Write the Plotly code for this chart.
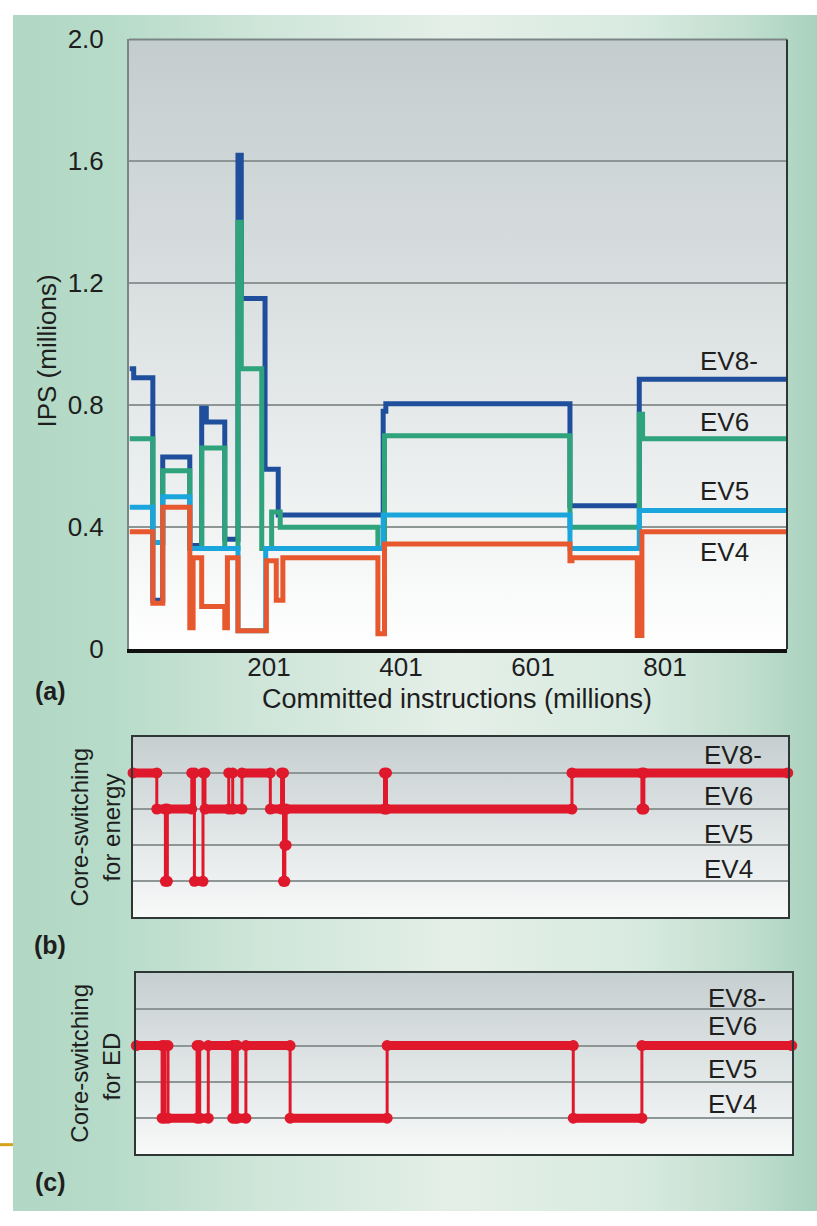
import base64
import plotly.graph_objects as go

# ---------------- data ----------------
# Panel (a): IPS (millions) per core, step series over committed instructions (millions)
ev8_x = [-10, -4, 25, 40, 81, 99, 106, 134, 154, 159, 195, 215, 374, 378, 657, 762, 986]
ev8_y = [0.92, 0.89, 0.16, 0.63, 0.34, 0.79, 0.745, 0.36, 1.62, 1.15, 0.59, 0.44, 0.78, 0.805, 0.47, 0.885, 0.885]

ev6_x = [-10, 25, 40, 81, 99, 134, 154, 159, 190, 205, 218, 366, 376, 657, 762, 767, 986]
ev6_y = [0.69, 0.35, 0.585, 0.33, 0.66, 0.33, 1.40, 0.92, 0.33, 0.45, 0.40, 0.33, 0.70, 0.40, 0.77, 0.69, 0.69]

ev5_x = [-10, 25, 40, 81, 154, 196, 374, 657, 762, 986]
ev5_y = [0.465, 0.35, 0.50, 0.33, 0.06, 0.33, 0.44, 0.33, 0.455, 0.455]

ev4_x = [-10, 25, 40, 81, 86, 99, 134, 138, 154, 197, 212, 222, 366, 376, 657, 660, 759, 766, 986]
ev4_y = [0.385, 0.15, 0.465, 0.07, 0.30, 0.14, 0.07, 0.30, 0.06, 0.29, 0.16, 0.30, 0.05, 0.345,
         0.29, 0.30, 0.045, 0.385, 0.385]

x_ticks = [201, 401, 601, 801]
y_ticks = [0, 0.4, 0.8, 1.2, 1.6, 2.0]
y_ticktext = ["0", "0.4", "0.8", "1.2", "1.6", "2.0"]

# Core levels for panels (b) and (c)
core_names = ["EV4", "EV5", "EV6", "EV8-"]
core_levels = [1, 2, 3, 4]

# Panel (b): core-switching for energy (level from x[i] to x[i+1])
b_x = [-5, 31, 44, 47, 84, 88, 101, 104, 140, 146, 160, 203, 220, 223, 225, 227, 376, 379, 660, 766, 769, 987]
b_lv = [4, 3, 1, 3, 4, 1, 4, 3, 4, 3, 4, 3, 4, 1, 2, 3, 4, 3, 4, 3, 4, 4]

# Panel (c): core-switching for ED
c_x = [0, 39, 43, 48, 92, 96, 109, 146, 150, 153, 166, 233, 380, 662, 766, 993]
c_lv = [3, 1, 3, 1, 3, 1, 3, 1, 3, 1, 3, 1, 3, 1, 3, 3]

# ---------------- styles ----------------
FONT = "Liberation Sans, Arial, sans-serif"
TXT = "#1e1e1e"
C_EV8, C_EV6, C_EV5, C_EV4 = "#1f4f9c", "#2ea37c", "#1aa6dc", "#e8582e"
RED = "#e0182c"
GRID = "#8d9595"

W, H = 817, 1226


def px(x):
    return x / W


def py(y):
    return 1 - y / H


def grad_uri(stops, horizontal):
    x2, y2 = ("1", "0") if horizontal else ("0", "1")
    st = "".join(f"<stop offset='{o}' stop-color='{c}'/>" for o, c in stops)
    svg = ("<svg xmlns='http://www.w3.org/2000/svg' width='100' height='100' viewBox='0 0 100 100' "
           "preserveAspectRatio='none'><defs><linearGradient id='g' x1='0' y1='0' "
           f"x2='{x2}' y2='{y2}'>{st}</linearGradient></defs>"
           "<rect width='100' height='100' fill='url(#g)'/></svg>")
    return "data:image/svg+xml;base64," + base64.b64encode(svg.encode()).decode()


bg_uri = grad_uri([(0, "#b1d8c4"), (0.12, "#b7dbc9"), (0.32, "#d0e6da"), (0.55, "#e4efe8"),
                   (0.78, "#d8eae0"), (0.92, "#bfddcd"), (1, "#a8d2be")], True)
plot_uri = grad_uri([(0, "#c4cdce"), (0.35, "#d6dcdd"), (0.7, "#ebeeee"), (1, "#ffffff")], False)
sub_uri = grad_uri([(0, "#c6cfd0"), (0.5, "#dfe4e5"), (1, "#f8f9f9")], False)

# domains (pixel based)
ax_a = (129, 787, 25, 650)
ax_b = (133, 788, 740, 925)
ax_c = (136, 792, 982, 1168)


def dom(a):
    return [px(a[0]), px(a[1])], [py(a[3]), py(a[2])]


def xrange_for(a):
    return [(a[0] - 137) / 0.66 + 1, (a[1] - 137) / 0.66 + 1]


fig = go.Figure()

# ---- panel (a) ----
for xs, ys, col, nm in [(ev8_x, ev8_y, C_EV8, "EV8-"), (ev6_x, ev6_y, C_EV6, "EV6"),
                        (ev5_x, ev5_y, C_EV5, "EV5"), (ev4_x, ev4_y, C_EV4, "EV4")]:
    fig.add_trace(go.Scatter(x=xs, y=ys, mode="lines", line=dict(color=col, width=5, shape="hv"),
                             name=nm, xaxis="x", yaxis="y", showlegend=False))


def seg_xy(xs, lv):
    sx, sy = [], []
    for i in range(len(xs) - 1):
        sx += [xs[i], xs[i + 1], None]
        sy += [lv[i], lv[i], None]
    return sx, sy


for xs, lv, xa, ya in [(b_x, b_lv, "x2", "y2"), (c_x, c_lv, "x3", "y3")]:
    fig.add_trace(go.Scatter(x=xs, y=lv, mode="lines", line=dict(color=RED, width=3, shape="hv"),
                             xaxis=xa, yaxis=ya, showlegend=False, cliponaxis=False))
    sx, sy = seg_xy(xs, lv)
    fig.add_trace(go.Scatter(x=sx, y=sy, mode="lines+markers", line=dict(color=RED, width=9),
                             marker=dict(color=RED, size=11, symbol="circle"),
                             xaxis=xa, yaxis=ya, showlegend=False, cliponaxis=False))

xd_a, yd_a = dom(ax_a)
xd_b, yd_b = dom(ax_b)
xd_c, yd_c = dom(ax_c)

fig.update_layout(
    width=W, height=H, margin=dict(l=0, r=0, t=0, b=0),
    paper_bgcolor="#ffffff", plot_bgcolor="rgba(0,0,0,0)",
    font=dict(family=FONT, color=TXT, size=26),
    showlegend=False,
    xaxis=dict(domain=xd_a, range=xrange_for(ax_a), anchor="y", tickvals=x_ticks,
               ticktext=[str(v) for v in x_ticks], ticks="", showgrid=False, zeroline=False,
               showline=True, linecolor="#111111", linewidth=4, tickfont=dict(size=26),
               ticklabelstandoff=-8),
    yaxis=dict(domain=yd_a, range=[0, 2.0], anchor="x", tickvals=y_ticks, ticktext=y_ticktext,
               ticks="", showgrid=True, gridcolor=GRID, gridwidth=1.5, zeroline=False,
               showline=True, linecolor="#7c8585", linewidth=2, tickfont=dict(size=26),
               ticklabelstandoff=18),
    xaxis2=dict(domain=xd_b, range=xrange_for(ax_b), anchor="y2", showticklabels=False, ticks="",
                showgrid=False, zeroline=False, showline=True, mirror=True,
                linecolor="#2f3636", linewidth=2),
    yaxis2=dict(domain=yd_b, range=[0, 5], anchor="x2", tickvals=core_levels, showticklabels=False,
                ticks="", showgrid=True, gridcolor=GRID, gridwidth=1.5, zeroline=False,
                showline=True, mirror=True, linecolor="#2f3636", linewidth=2),
    xaxis3=dict(domain=xd_c, range=xrange_for(ax_c), anchor="y3", showticklabels=False, ticks="",
                showgrid=False, zeroline=False, showline=True, mirror=True,
                linecolor="#2f3636", linewidth=2),
    yaxis3=dict(domain=yd_c, range=[0, 5], anchor="x3", tickvals=core_levels, showticklabels=False,
                ticks="", showgrid=True, gridcolor=GRID, gridwidth=1.5, zeroline=False,
                showline=True, mirror=True, linecolor="#2f3636", linewidth=2),
)

images = [dict(source=bg_uri, xref="paper", yref="paper", x=px(13), y=1, sizex=px(W - 13), sizey=1,
               xanchor="left", yanchor="top", sizing="stretch", layer="below")]
for a, uri in [(ax_a, plot_uri), (ax_b, sub_uri), (ax_c, sub_uri)]:
    images.append(dict(source=uri, xref="paper", yref="paper", x=px(a[0]), y=py(a[2]),
                       sizex=px(a[1] - a[0]), sizey=(a[3] - a[2]) / H, xanchor="left",
                       yanchor="top", sizing="stretch", layer="below"))
fig.update_layout(images=images)

shapes = [
    # frame of panel (a): top gray, right dark
    dict(type="line", xref="x domain", yref="y domain", x0=0, x1=1, y0=1, y1=1,
         line=dict(color="#7c8585", width=2)),
    dict(type="line", xref="x domain", yref="y domain", x0=1, x1=1, y0=0, y1=1,
         line=dict(color="#2f3636", width=2)),
    # decorative gold tick at left edge
    dict(type="line", xref="paper", yref="paper", x0=0, x1=px(13), y0=py(1158), y1=py(1158),
         line=dict(color="#d6a21e", width=3)),
]
fig.update_layout(shapes=shapes)

ann = []


def A(text, x, y, xref="paper", yref="paper", size=26, angle=0, xanchor="center",
      yanchor="middle", bold=False, yshift=0):
    ann.append(dict(text=f"<b>{text}</b>" if bold else text, x=x, y=y, xref=xref, yref=yref,
                    showarrow=False, textangle=angle, xanchor=xanchor, yanchor=yanchor,
                    font=dict(size=size, family=FONT, color=TXT), yshift=yshift))


A("IPS (millions)", px(47), py(345), size=26, angle=-90)
A("Committed instructions (millions)", px(457), py(701), size=27)
A("(a)", px(50), py(693), size=25, bold=True)
A("(b)", px(50), py(953), size=25, bold=True)
A("(c)", px(50), py(1196), size=25, bold=True)
A("Core-switching", px(80), py(833), size=24, angle=-90)
A("for energy", px(112), py(833), size=24, angle=-90)
A("Core-switching", px(80), py(1075), size=24, angle=-90)
A("for ED", px(112), py(1078), size=24, angle=-90)

for nm, yv in zip(["EV8-", "EV6", "EV5", "EV4"], [0.944, 0.746, 0.518, 0.317]):
    A(nm, px(698), yv, yref="y", xanchor="left")
for nm, yv in zip(["EV8-", "EV6", "EV5", "EV4"], [4.51, 3.35, 2.32, 1.35]):
    A(nm, px(702), yv, yref="y2", xanchor="left")
for nm, yv in zip(["EV8-", "EV6", "EV5", "EV4"], [4.32, 3.54, 2.35, 1.40]):
    A(nm, px(706), yv, yref="y3", xanchor="left")

fig.update_layout(annotations=ann)

fig.write_html("out.html")
